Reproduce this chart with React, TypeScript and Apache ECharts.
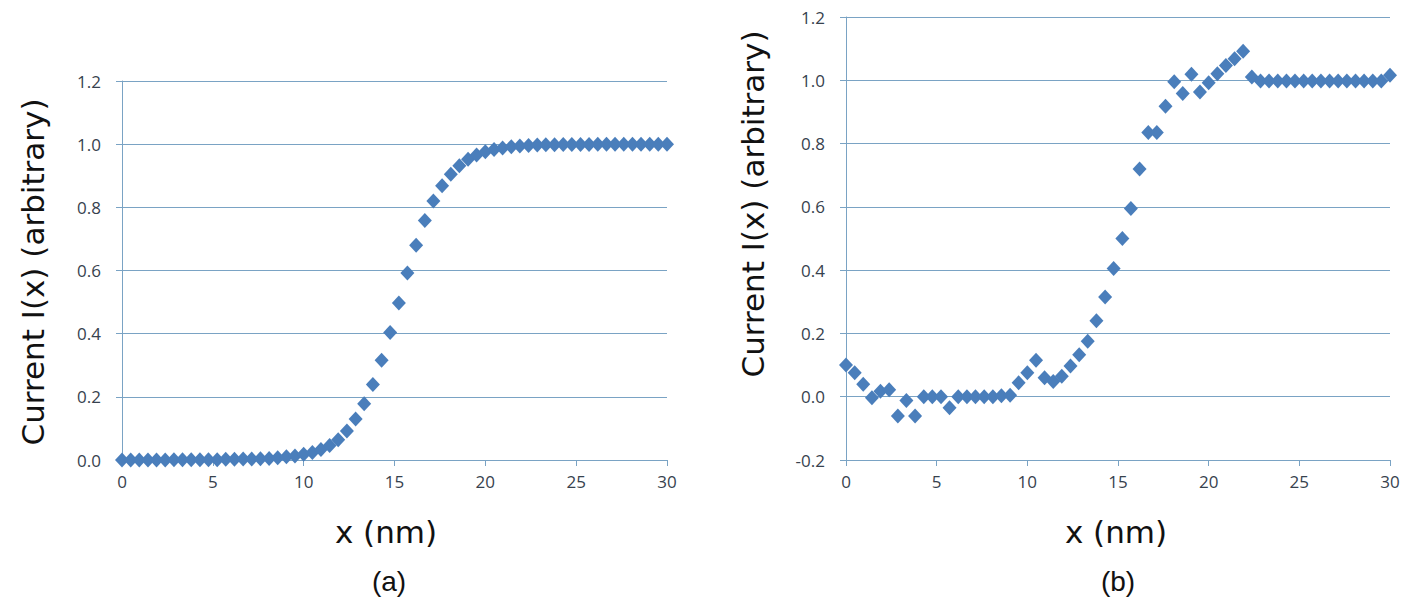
import React, { useEffect, useRef } from "react";
import * as echarts from "echarts";

// x positions (nm) shared by both panels
const xPositions = [
  0, 0.48, 0.95, 1.43, 1.9, 2.38, 2.86, 3.33, 3.81, 4.29, 4.76, 5.24, 5.71, 6.19, 6.67, 7.14,
  7.62, 8.1, 8.57, 9.05, 9.52, 10.0, 10.48, 10.95, 11.43, 11.9, 12.38, 12.86, 13.33, 13.81, 14.29, 14.76,
  15.24, 15.71, 16.19, 16.67, 17.14, 17.62, 18.1, 18.57, 19.05, 19.52, 20.0, 20.48, 20.95, 21.43, 21.9, 22.38,
  22.86, 23.33, 23.81, 24.29, 24.76, 25.24, 25.71, 26.19, 26.67, 27.14, 27.62, 28.1, 28.57, 29.05, 29.52, 30.0,
];

// Panel (a) current values
const currentA = [
  0.0, 0.0, 0.0, 0.0, 0.0, 0.0, 0.001, 0.001, 0.001, 0.001, 0.001, 0.001, 0.002, 0.002, 0.003, 0.003,
  0.004, 0.005, 0.007, 0.01, 0.013, 0.018, 0.024, 0.033, 0.046, 0.064, 0.092, 0.13, 0.178, 0.239, 0.316, 0.404,
  0.497, 0.592, 0.68, 0.758, 0.82, 0.868, 0.905, 0.932, 0.952, 0.966, 0.976, 0.983, 0.988, 0.992, 0.994, 0.996,
  0.997, 0.998, 0.998, 0.999, 0.999, 0.999, 0.999, 1.0, 1.0, 1.0, 1.0, 1.0, 1.0, 1.0, 1.0, 1.0,
];

// Panel (b) current values
const currentB = [
  0.1, 0.076, 0.039, -0.003, 0.017, 0.022, -0.061, -0.012, -0.061, 0.0, 0.0, 0.0, -0.035, 0.0, 0.0, 0.0,
  0.0, 0.0, 0.003, 0.005, 0.044, 0.076, 0.115, 0.06, 0.048, 0.065, 0.097, 0.133, 0.175, 0.24, 0.315, 0.405,
  0.5, 0.595, 0.72, 0.835, 0.835, 0.918, 0.995, 0.958, 1.019, 0.963, 0.992, 1.021, 1.047, 1.068, 1.092, 1.01,
  0.998, 0.998, 0.998, 0.998, 0.998, 0.998, 0.998, 0.998, 0.998, 0.998, 0.998, 0.998, 0.998, 0.998, 0.998, 1.016,
];

const yTitle = "Current I(x) (arbitrary)";
const xTitle = "x (nm)";
const panelLabels = ["(a)", "(b)"];

const GRID = "#7aa3c4";
const LABEL = "#37424e";
const MARK = "#4a7ebb";
const TICK_FONT = "Open Sans";
const TITLE_FONT = "DejaVu Sans";

function fmt(v: number) {
  const r = Math.abs(v) < 1e-9 ? 0 : v;
  return r.toFixed(1);
}

export default function App() {
  const ref = useRef<HTMLDivElement>(null);

  useEffect(() => {
    if (!ref.current) return;
    const chart = echarts.init(ref.current, null, { renderer: "svg" });

    const xAxisBase = (gridIndex: number) => ({
      type: "value",
      gridIndex,
      min: 0,
      max: 30,
      interval: 5,
      axisLine: { show: true, onZero: false, lineStyle: { color: GRID, width: 1 } },
      axisTick: { show: true, length: 6, lineStyle: { color: GRID } },
      axisLabel: { color: LABEL, fontSize: 17, fontFamily: TICK_FONT, margin: 13 },
      splitLine: { show: false },
    });

    const yAxisBase = (gridIndex: number, min: number) => ({
      type: "value",
      gridIndex,
      min,
      max: 1.2,
      interval: 0.2,
      axisLine: { show: true, onZero: false, lineStyle: { color: GRID, width: 1 } },
      axisTick: { show: true, length: 6, lineStyle: { color: GRID } },
      axisLabel: {
        color: LABEL,
        fontSize: 17,
        fontFamily: TICK_FONT,
        margin: 21,
        formatter: (v: number) => fmt(v),
      },
      splitLine: { show: true, lineStyle: { color: GRID, width: 1 } },
    });

    const titleStyle = {
      font: `31px "${TITLE_FONT}"`,
      fill: "#111",
      align: "center",
      verticalAlign: "middle",
    };

    const markStyle = { color: MARK, opacity: 1 };

    chart.setOption({
      animation: false,
      backgroundColor: "#ffffff",
      grid: [
        { left: 122, top: 81, width: 545, height: 379 },
        { left: 846, top: 17, width: 544, height: 443 },
      ],
      xAxis: [xAxisBase(0), xAxisBase(1)],
      yAxis: [yAxisBase(0, 0), yAxisBase(1, -0.2)],
      series: [
        {
          type: "scatter",
          xAxisIndex: 0,
          yAxisIndex: 0,
          symbol: "diamond",
          symbolSize: [14, 15],
          itemStyle: markStyle,
          data: xPositions.map((x, i) => [x, currentA[i]]),
        },
        {
          type: "scatter",
          xAxisIndex: 1,
          yAxisIndex: 1,
          symbol: "diamond",
          symbolSize: [14, 15],
          itemStyle: markStyle,
          data: xPositions.map((x, i) => [x, currentB[i]]),
        },
      ],
      graphic: [
        { type: "text", x: 33, y: 272, rotation: Math.PI / 2, style: { ...titleStyle, text: yTitle } },
        { type: "text", x: 753, y: 204, rotation: Math.PI / 2, style: { ...titleStyle, text: yTitle } },
        { type: "text", x: 386, y: 532, style: { ...titleStyle, text: xTitle } },
        { type: "text", x: 1116, y: 532, style: { ...titleStyle, text: xTitle } },
        {
          type: "text",
          x: 389,
          y: 581,
          style: { font: '28px "Liberation Sans"', fill: "#111", align: "center", verticalAlign: "middle", text: panelLabels[0] },
        },
        {
          type: "text",
          x: 1118,
          y: 581,
          style: { font: '28px "Liberation Sans"', fill: "#111", align: "center", verticalAlign: "middle", text: panelLabels[1] },
        },
      ],
    });

    return () => chart.dispose();
  }, []);

  return (
    <div
      ref={ref}
      style={{ position: "fixed", left: 0, top: 0, width: 1419, height: 607, background: "#fff" }}
    />
  );
}
